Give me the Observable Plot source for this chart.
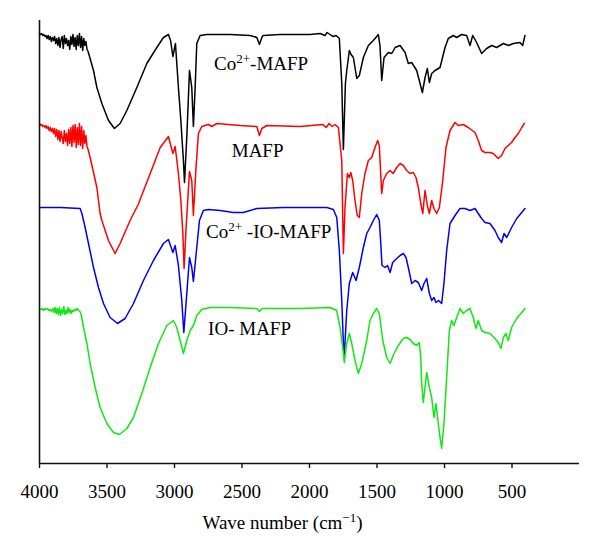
<!DOCTYPE html>
<html><head><meta charset="utf-8">
<script src="https://cdn.jsdelivr.net/npm/d3@7"></script>
<script src="https://cdn.jsdelivr.net/npm/@observablehq/plot@0.6"></script>
<style>body{margin:0;background:#fff}</style>
</head><body><div id="chart"></div>
<script>
// Tick labels on the wavenumber axis
const xTicks = [4000, 3500, 3000, 2500, 2000, 1500, 1000, 500];
// Series names and colours
const seriesNames = ["Co2+-MAFP", "MAFP", "Co2+-IO-MAFP", "IO-MAFP"];
const seriesColors = ["#000000", "#ff0000", "#0000f0", "#10e810"];
// Spectra: [wavenumber (cm^-1), transmittance (a.u., offset per trace)]
const black = [[4000,430],[3992,429],[3984,430],[3976,428],[3968,429],[3960,427],[3952,428],[3944,425],[3936,428],[3928,424],[3920,427],[3912,422],[3904,426],[3896,423],[3888,427],[3880,420],[3872,425],[3864,418],[3856,426],[3848,416],[3840,424],[3832,427],[3824,415],[3816,428],[3808,420],[3800,425],[3792,418],[3784,423],[3776,414],[3768,427],[3760,419],[3752,429],[3744,417],[3736,426],[3728,414],[3720,428],[3712,418],[3704,430],[3696,416],[3688,427],[3680,413],[3672,425],[3664,418],[3656,422],[3648,414],[3640,412],[3600,393],[3575,376],[3538,360],[3489,343],[3445,335],[3403,340],[3353,353],[3279,376],[3205,400],[3131,416],[3082,426],[3045,429],[3029,423],[3012,407],[2993,420],[2971,376],[2953,343],[2934,303],[2926,281],[2909,326],[2889,393],[2872,376],[2860,337],[2847,376],[2835,420],[2810,428],[2761,429],[2588,429],[2440,428],[2390,426],[2371,419],[2353,426],[2344,428],[2218,429],[1996,429],[1922,430],[1885,428],[1870,431],[1848,429],[1825,427],[1803,428],[1779,425],[1761,380],[1749,314],[1734,380],[1724,393],[1705,413],[1692,409],[1675,406],[1650,385],[1631,388],[1601,406],[1564,418],[1527,423],[1490,429],[1478,418],[1465,383],[1448,406],[1416,411],[1391,410],[1366,416],[1329,418],[1292,411],[1268,400],[1243,401],[1206,393],[1181,380],[1164,371],[1144,386],[1127,395],[1112,381],[1095,390],[1070,393],[1033,396],[996,416],[972,425],[935,428],[910,426],[873,429],[836,428],[811,418],[791,428],[762,421],[725,410],[688,415],[650,418],[614,416],[564,420],[527,418],[490,420],[441,421],[421,418],[404,428]];
const red = [[4000,340],[3992,338],[3984,339],[3976,337],[3968,338],[3960,336],[3952,338],[3944,335],[3936,337],[3928,333],[3920,336],[3912,332],[3904,335],[3896,330],[3888,335],[3880,327],[3872,334],[3864,324],[3856,333],[3848,322],[3840,332],[3832,326],[3824,320],[3816,333],[3808,322],[3800,330],[3792,318],[3784,334],[3776,320],[3768,336],[3760,317],[3752,338],[3744,321],[3736,339],[3728,316],[3720,336],[3712,319],[3704,340],[3696,318],[3688,337],[3680,315],[3672,333],[3664,320],[3656,328],[3648,317],[3640,314],[3625,306],[3575,276],[3551,250],[3538,243],[3489,223],[3440,210],[3403,220],[3329,243],[3269,259],[3180,290],[3106,316],[3045,327],[3012,310],[2995,317],[2971,290],[2953,263],[2938,230],[2929,195],[2914,236],[2889,292],[2872,283],[2860,248],[2842,293],[2823,330],[2798,337],[2749,339],[2724,337],[2687,340],[2514,338],[2390,337],[2371,328],[2353,335],[2316,338],[2070,337],[1900,339],[1877,336],[1855,340],[1833,337],[1811,339],[1786,336],[1761,303],[1749,210],[1737,256],[1719,290],[1705,286],[1694,291],[1680,283],[1663,263],[1646,248],[1631,246],[1613,270],[1589,290],[1564,303],[1539,306],[1515,316],[1495,323],[1483,318],[1465,270],[1453,283],[1428,290],[1403,293],[1381,290],[1354,296],[1329,300],[1305,298],[1280,293],[1255,290],[1231,291],[1211,286],[1194,276],[1176,260],[1161,250],[1144,273],[1127,258],[1112,250],[1095,263],[1078,255],[1058,250],[1038,256],[1013,283],[989,316],[959,333],[922,341],[898,338],[861,339],[824,336],[774,331],[750,323],[725,313],[700,311],[663,311],[639,310],[602,305],[577,308],[552,315],[527,318],[503,321],[478,326],[453,330],[428,336],[409,340]];
const blue = [[4000,256],[3847,256],[3699,255],[3686,250],[3662,236],[3637,220],[3600,196],[3563,176],[3526,160],[3477,146],[3422,140],[3366,145],[3304,160],[3230,183],[3156,203],[3082,220],[3045,224],[3012,211],[2995,218],[2971,198],[2946,163],[2931,131],[2909,170],[2889,206],[2872,196],[2860,182],[2835,216],[2815,243],[2786,253],[2749,254],[2662,253],[2564,251],[2490,251],[2390,255],[2193,256],[1872,256],[1823,254],[1798,246],[1779,213],[1761,163],[1749,120],[1742,109],[1724,153],[1705,180],[1680,191],[1655,183],[1631,196],[1601,216],[1576,230],[1552,236],[1527,243],[1502,249],[1483,243],[1472,220],[1463,198],[1441,196],[1422,198],[1403,191],[1384,201],[1354,205],[1329,208],[1305,210],[1285,206],[1268,196],[1243,180],[1218,183],[1194,181],[1169,173],[1152,180],[1132,185],[1112,170],[1095,163],[1078,166],[1063,161],[1044,163],[1021,160],[1004,180],[984,213],[959,240],[922,248],[885,255],[848,255],[811,253],[774,255],[750,250],[725,245],[700,241],[663,240],[626,233],[602,226],[577,221],[559,230],[539,226],[503,236],[465,245],[428,251],[404,255]];
const green = [[4000,155],[3990,154],[3980,155],[3970,153],[3960,155],[3950,154],[3940,155],[3930,153],[3920,154],[3910,152],[3900,155],[3892,151],[3884,156],[3876,150],[3868,155],[3860,149],[3852,156],[3844,148],[3836,154],[3828,150],[3820,157],[3812,149],[3804,153],[3796,150],[3788,156],[3780,151],[3772,154],[3764,150],[3756,153],[3748,152],[3740,154],[3730,153],[3720,155],[3710,153],[3700,152],[3690,148],[3674,136],[3649,120],[3625,100],[3588,76],[3551,56],[3501,40],[3452,31],[3408,29],[3353,35],[3304,46],[3242,70],[3180,96],[3119,120],[3057,138],[3008,143],[2983,136],[2958,123],[2934,110],[2909,123],[2884,133],[2860,138],[2835,148],[2798,154],[2736,156],[2588,156],[2390,155],[2371,152],[2351,155],[2070,155],[1848,156],[1798,153],[1774,136],[1754,116],[1742,101],[1724,120],[1705,130],[1687,120],[1663,103],[1638,90],[1613,100],[1576,123],[1552,143],[1527,150],[1502,155],[1483,150],[1457,123],[1428,106],[1403,100],[1374,110],[1342,118],[1305,125],[1280,126],[1255,124],[1231,120],[1206,118],[1187,121],[1176,106],[1169,80],[1157,61],[1132,91],[1112,76],[1095,66],[1078,46],[1063,60],[1046,40],[1033,26],[1021,15],[1004,40],[984,86],[964,133],[947,143],[930,138],[910,146],[885,155],[861,150],[836,153],[811,155],[787,146],[767,135],[750,143],[725,133],[700,131],[663,130],[626,125],[602,121],[582,115],[564,126],[545,130],[527,123],[503,136],[465,145],[428,151],[404,155]];
// Curve labels (anchor wavenumber, transmittance)
const labelTexts = ["Co^{2+}-MAFP", "MAFP", "Co^{2+} -IO-MAFP", "IO- MAFP"];
const labelWn = [2707, 2576, 2766, 2751];
const labelT = [400, 313, 232, 135];
const xLabel = "Wave number (cm^{\u22121})";

const rows = [];
[black, red, blue, green].forEach((arr, i) =>
  arr.forEach(([wn, t]) => rows.push({series: seriesNames[i], wn, t})));
const labels = labelTexts.map((text, i) => ({text, wn: labelWn[i], t: labelT[i]}));

const chart = Plot.plot({
  width: 600, height: 548,
  marginLeft: 39, marginRight: 21, marginTop: 20, marginBottom: 85,
  style: {fontFamily: "'Liberation Serif', 'Times New Roman', serif", fontSize: "19px", background: "#fff", color: "#000"},
  x: {domain: [4000, 0]},
  y: {domain: [0, 443], axis: null},
  color: {domain: seriesNames, range: seriesColors},
  marks: [
    Plot.line(rows, {x: "wn", y: "t", z: "series", stroke: "series", strokeWidth: 1.5}),
    Plot.ruleX([4000], {stroke: "#111", strokeWidth: 1.6}),
    Plot.ruleY([0], {stroke: "#111", strokeWidth: 1.6}),
    Plot.axisX({ticks: xTicks, tickSize: 5, tickPadding: 16, tickFormat: d => String(d),
      fontSize: 19, label: null, stroke: "#111", strokeWidth: 1.4, fill: "#000"}),
    Plot.text(labels, {x: "wn", y: "t", text: "text", textAnchor: "start", fontSize: 19, fill: "#000"}),
    Plot.text([xLabel], {x: 2200, frameAnchor: "bottom", dy: 65, fontSize: 19, fill: "#000"})
  ]
});

// render ^{...} as superscript tspans
chart.querySelectorAll("text").forEach(el => {
  const s = el.textContent;
  if (!s.includes("^{")) return;
  el.textContent = "";
  const parts = s.split(/\^\{([^}]*)\}/);
  const ns = "http://www.w3.org/2000/svg";
  parts.forEach((p, i) => {
    if (!p) return;
    const t = document.createElementNS(ns, "tspan");
    t.textContent = p;
    if (i % 2 === 1) {
      t.setAttribute("font-size", "13px");
      t.setAttribute("dy", "-7");
    } else if (i > 0) {
      t.setAttribute("dy", "7");
    }
    el.appendChild(t);
  });
});
document.getElementById("chart").appendChild(chart);
</script>
</body></html>
